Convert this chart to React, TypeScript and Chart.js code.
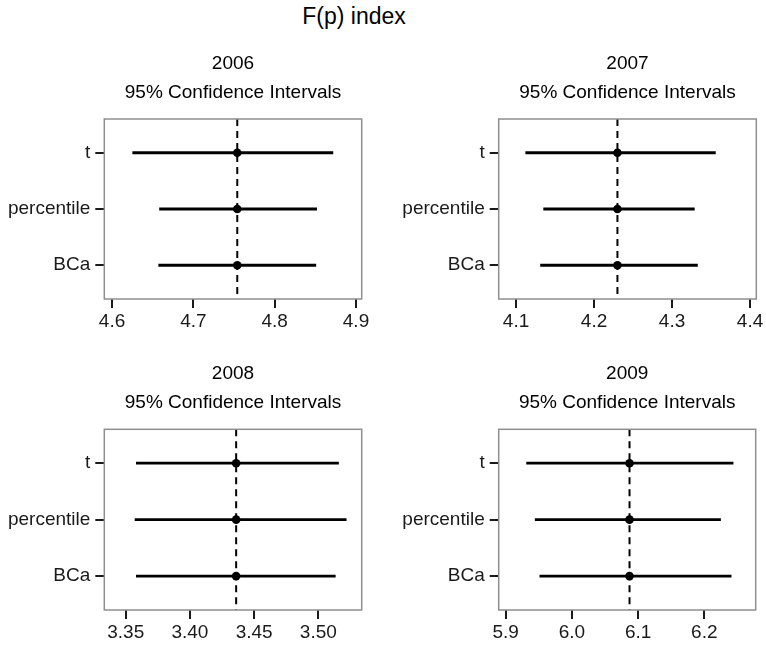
import React, { useEffect, useRef } from "react";
import { Chart, registerables } from "chart.js";

Chart.register(...registerables);

// ---------------- DATA ----------------
const mainTitle = "F(p) index";
const subTitle = "95% Confidence Intervals";
const methods = ["t", "percentile", "BCa"];
const years = ["2006", "2007", "2008", "2009"];
const estimates = [4.754, 4.23, 3.436, 6.087];

const lower2006 = [4.625, 4.658, 4.657];
const upper2006 = [4.872, 4.852, 4.851];
const lower2007 = [4.112, 4.135, 4.131];
const upper2007 = [4.356, 4.329, 4.333];
const lower2008 = [3.358, 3.357, 3.358];
const upper2008 = [3.516, 3.522, 3.5135];
const lower2009 = [5.931, 5.944, 5.951];
const upper2009 = [6.244, 6.225, 6.241];

const ticks2006 = [4.6, 4.7, 4.8, 4.9];
const ticks2007 = [4.1, 4.2, 4.3, 4.4];
const ticks2008 = [3.35, 3.4, 3.45, 3.5];
const ticks2009 = [5.9, 6.0, 6.1, 6.2];
const tickLabels2006 = ["4.6", "4.7", "4.8", "4.9"];
const tickLabels2007 = ["4.1", "4.2", "4.3", "4.4"];
const tickLabels2008 = ["3.35", "3.40", "3.45", "3.50"];
const tickLabels2009 = ["5.9", "6.0", "6.1", "6.2"];

const xMin = [4.5905, 4.0778, 3.3333, 5.8894];
const xMax = [4.907, 4.408, 3.5338, 6.2776];

const lowers = [lower2006, lower2007, lower2008, lower2009];
const uppers = [upper2006, upper2007, upper2008, upper2009];
const tickValues = [ticks2006, ticks2007, ticks2008, ticks2009];
const tickLabels = [tickLabels2006, tickLabels2007, tickLabels2008, tickLabels2009];

// ---------------- LAYOUT ----------------
const FONT = '"Liberation Sans", Arial, Helvetica, sans-serif';

type Box = { left: number; top: number; width: number; height: number };
type Area = { left: number; right: number; top: number; bottom: number };

const canvases: Box[] = [
  { left: 0, top: 40, width: 383, height: 300 },
  { left: 383, top: 40, width: 383, height: 300 },
  { left: 0, top: 340, width: 383, height: 306 },
  { left: 383, top: 340, width: 383, height: 306 },
];
const areas: Area[] = [
  { left: 104.3, right: 361.7, top: 119, bottom: 299 },
  { left: 498.7, right: 756.3, top: 119, bottom: 299 },
  { left: 104.3, right: 361.7, top: 429.3, bottom: 610 },
  { left: 498.7, right: 755.7, top: 429.3, bottom: 610 },
];

function Panel({ idx }: { idx: number }) {
  const ref = useRef<HTMLCanvasElement | null>(null);
  const box = canvases[idx];
  const area = areas[idx];

  useEffect(() => {
    if (!ref.current) return;
    const est = estimates[idx];
    const lo = lowers[idx];
    const hi = uppers[idx];
    const tv = tickValues[idx];
    const tl = tickLabels[idx];

    const intervalSets = methods.map((m, i) => ({
      label: m,
      data: [
        { x: lo[i], y: i + 1 },
        { x: hi[i], y: i + 1 },
      ],
      showLine: true,
      borderColor: "#000",
      borderWidth: 2.8,
      pointRadius: 0,
      order: 1,
    }));

    const panelDecor = {
      id: "panelDecor" + idx,
      afterDraw(chart: any) {
        const ca = chart.chartArea;
        const ctx = chart.ctx;
        ctx.save();
        ctx.strokeStyle = "#8f8f8f";
        ctx.lineWidth = 1.5;
        ctx.strokeRect(ca.left, ca.top, ca.right - ca.left, ca.bottom - ca.top);
        ctx.fillStyle = "#000";
        ctx.font = `19px ${FONT}`;
        ctx.textAlign = "center";
        ctx.textBaseline = "alphabetic";
        const cx = (ca.left + ca.right) / 2;
        ctx.fillText(years[idx], cx, ca.top - 50.5);
        ctx.fillText(subTitle, cx, ca.top - 21);
        ctx.restore();
      },
    };

    const chart = new Chart(ref.current, {
      type: "scatter",
      data: {
        datasets: [
          {
            label: "estimate",
            data: methods.map((_, i) => ({ x: est, y: i + 1 })),
            backgroundColor: "#000",
            borderColor: "#000",
            pointRadius: 4.3,
            pointBorderWidth: 0,
            order: 0,
          },
          ...intervalSets,
          {
            label: "ref",
            data: [
              { x: est, y: 0.4 },
              { x: est, y: 3.6 },
            ],
            showLine: true,
            borderColor: "#000",
            borderWidth: 2,
            borderDash: [7, 5],
            pointRadius: 0,
            order: 2,
          },
        ],
      },
      options: {
        animation: false,
        responsive: false,
        maintainAspectRatio: false,
        layout: {
          padding: {
            left: 0,
            right: box.left + box.width - area.right,
            top: area.top - box.top,
            bottom: 0,
          },
        },
        plugins: {
          legend: { display: false },
          tooltip: { enabled: false },
          title: { display: false },
        },
        scales: {
          x: {
            type: "linear",
            min: xMin[idx],
            max: xMax[idx],
            border: { display: false },
            grid: {
              drawOnChartArea: false,
              drawTicks: true,
              tickLength: 9,
              color: "#1a1a1a",
              lineWidth: 2,
            },
            afterBuildTicks: (scale: any) => {
              scale.ticks = tv.map((v) => ({ value: v }));
            },
            afterFit: (scale: any) => {
              scale.height = box.top + box.height - area.bottom;
            },
            ticks: {
              padding: 2,
              color: "#1a1a1a",
              font: { family: FONT, size: 19 },
              maxRotation: 0,
              autoSkip: false,
              callback: (value: any) => {
                const k = tv.findIndex((t) => Math.abs(t - value) < 1e-9);
                return k >= 0 ? tl[k] : "";
              },
            },
          },
          y: {
            type: "linear",
            min: 0.4,
            max: 3.6,
            reverse: true,
            border: { display: false },
            grid: {
              drawOnChartArea: false,
              drawTicks: true,
              tickLength: 9,
              color: "#1a1a1a",
              lineWidth: 2,
            },
            afterBuildTicks: (scale: any) => {
              scale.ticks = methods.map((_, i) => ({ value: i + 1 }));
            },
            afterFit: (scale: any) => {
              scale.width = area.left - box.left;
            },
            ticks: {
              padding: 5,
              color: "#1a1a1a",
              font: { family: FONT, size: 19 },
              autoSkip: false,
              callback: (value: any) => methods[Math.round(value) - 1] ?? "",
            },
          },
        },
      },
      plugins: [panelDecor],
    } as any);

    return () => chart.destroy();
  }, [idx]);

  return (
    <canvas
      ref={ref}
      width={box.width}
      height={box.height}
      style={{
        position: "absolute",
        left: box.left,
        top: box.top,
        width: box.width,
        height: box.height,
      }}
    />
  );
}

export default function App() {
  return (
    <div
      style={{
        position: "absolute",
        left: 0,
        top: 0,
        width: 766,
        height: 646,
        background: "#fff",
        overflow: "hidden",
      }}
    >
      <div
        style={{
          position: "absolute",
          left: 254,
          top: 2,
          width: 200,
          textAlign: "center",
          fontFamily: FONT,
          fontSize: 23,
          lineHeight: "28px",
          color: "#000",
        }}
      >
        {mainTitle}
      </div>
      {years.map((_, i) => (
        <Panel key={i} idx={i} />
      ))}
    </div>
  );
}
